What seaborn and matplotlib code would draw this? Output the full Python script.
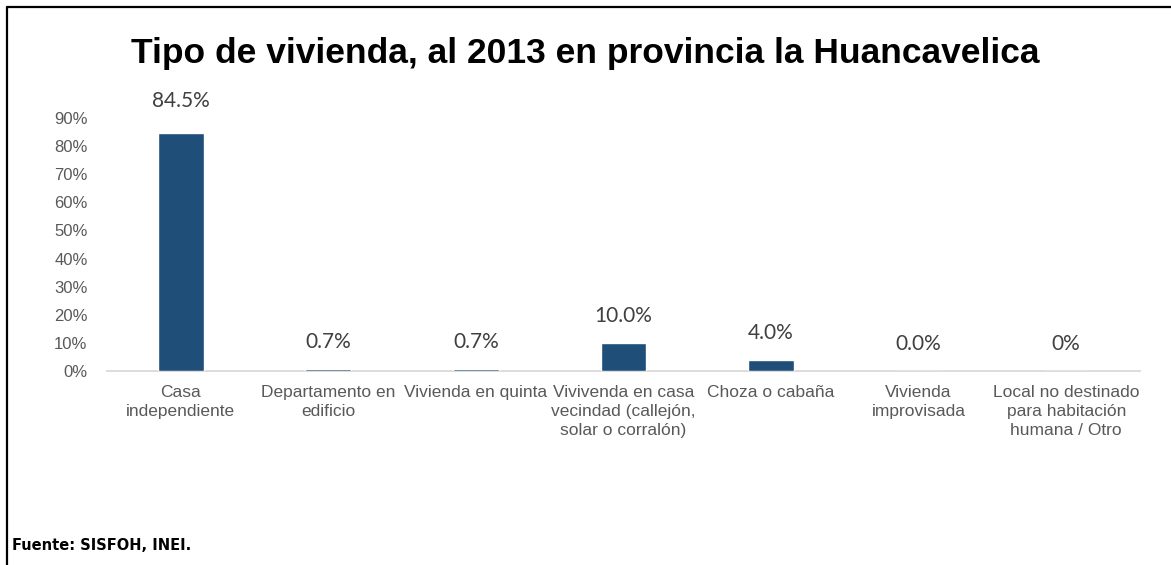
import matplotlib
matplotlib.use("Agg")
import matplotlib.pyplot as plt
import seaborn as sns
import pandas as pd
from matplotlib.lines import Line2D
from matplotlib.ticker import FuncFormatter

categories = [
    "Casa\nindependiente",
    "Departamento en\nedificio",
    "Vivienda en quinta",
    "Vivivenda en casa\nvecindad (callejón,\nsolar o corralón)",
    "Choza o cabaña",
    "Vivienda\nimprovisada",
    "Local no destinado\npara habitación\nhumana / Otro",
]
values = [84.5, 0.7, 0.7, 10.0, 4.0, 0.0, 0.0]
value_labels = ["84.5%", "0.7%", "0.7%", "10.0%", "4.0%", "0.0%", "0%"]
y_ticks = [0, 10, 20, 30, 40, 50, 60, 70, 80, 90]

title = "Tipo de vivienda, al 2013 en provincia la Huancavelica"
source = "Fuente: SISFOH, INEI."

sns.set_style("white")
narrow = ["Liberation Sans Narrow", "Liberation Sans", "DejaVu Sans"]
plt.rcParams["font.family"] = narrow

df = pd.DataFrame({"cat": categories, "val": values})

fig = plt.figure(figsize=(11.71, 5.65), dpi=100)
ax = fig.add_axes([107 / 1171, 1 - 371 / 565, (1140 - 107) / 1171, (371 - 118) / 565])

sns.barplot(data=df, x="cat", y="val", color="#1F4E79", width=0.31,
            saturation=1, ax=ax, zorder=3)

ax.set_ylim(0, 90)
ax.set_yticks(y_ticks)
ax.yaxis.set_major_formatter(FuncFormatter(lambda v, p: f"{v:.0f}%"))
ax.set_xlabel("")
ax.set_ylabel("")
for s in ["top", "right", "left"]:
    ax.spines[s].set_visible(False)
ax.spines["bottom"].set_color("#D9D9D9")
ax.spines["bottom"].set_linewidth(1.3)
ax.spines["bottom"].set_zorder(1)
ax.tick_params(axis="both", length=0, labelcolor="#595959")
ax.tick_params(axis="x", pad=10, labelsize=12.5)
ax.tick_params(axis="y", pad=14, labelsize=12)
for lbl in ax.get_xticklabels():
    lbl.set_linespacing(1.35)

offsets = [32, 27, 27, 27, 27, 27, 27]
for i, (v, t, o) in enumerate(zip(values, value_labels, offsets)):
    ax.annotate(t, xy=(i, v), xytext=(0, o), textcoords="offset pixels",
                ha="center", va="center", fontsize=15, color="#404040",
                family=["Lato", "DejaVu Sans"], annotation_clip=False)

fig.text(585 / 1171, 1 - 54 / 565, title, ha="center", va="center",
         fontsize=25.5, fontweight="bold", color="black")
fig.text(12 / 1171, 1 - 545 / 565, source, ha="left", va="center",
         fontsize=10.5, fontweight="bold", color="black",
         family=["DejaVu Sans"])

# frame lines (top and left)
fig.add_artist(Line2D([6.5 / 1171, 1], [1 - 6.5 / 565, 1 - 6.5 / 565],
                      transform=fig.transFigure, color="black", lw=1.6))
fig.add_artist(Line2D([6.5 / 1171, 6.5 / 1171], [0, 1 - 6.5 / 565],
                      transform=fig.transFigure, color="black", lw=1.6))

fig.savefig("out.png", dpi=100, facecolor="white")
